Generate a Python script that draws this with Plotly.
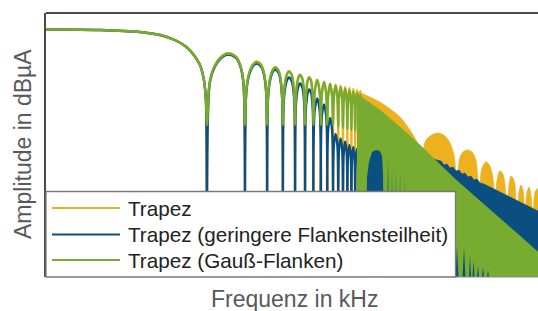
import plotly.graph_objects as go

# ---------------- data ----------------
SERIES_NAMES = ["Trapez", "Trapez (geringere Flankensteilheit)", "Trapez (Gauß-Flanken)"]
SERIES_COLORS = ["#EDB120", "#0B4F80", "#77AC30"]
X_TITLE = "Frequenz in kHz"
Y_TITLE = "Amplitude in dBµA"

# main lobe (common to all three pulses)
FLAT_FREQ_KHZ = [1.06, 2.83, 5.88, 8.47, 11.1, 13.4, 15.5, 17.6, 18.9, 19.6]
FLAT_DB = [123.75, 123.5, 122.5, 121.0, 118.5, 115.5, 111.5, 106.0, 98.5, 88.5]

# resolved side lobes (nulls at multiples of 20 kHz)
LOBE_FREQ_KHZ = [
    20, 21, 23, 26, 29.4, 34, 37, 39,
    40, 41, 43, 46, 49.4, 54, 57, 59,
    60, 61, 63, 66, 69.4, 74, 77, 79,
    80, 81, 83, 86, 89.4, 94, 97, 99,
    100, 101, 103, 106, 109.4, 114, 117, 119,
    120, 121, 123, 126, 129.4, 134, 137, 139,
    140, 143, 150, 157,
    160, 163, 170, 177,
    180, 183, 190, 197,
    200, 203, 210, 217,
    220, 223, 230, 237,
    240, 243, 250, 257,
    260, 263, 270, 277,
    280, 283, 290, 297,
    300, 303, 310, 317,
    320, 323, 330, 337,
    340,
]
ORANGE_LOBE_DB = [
    0, 97.4, 105.65, 110.25, 111.9, 110.15, 105.4, 96.9,
    0, 93.15, 101.4, 106.0, 107.65, 105.9, 101.15, 92.65,
    0, 90.4, 98.65, 103.25, 104.9, 103.15, 98.4, 89.9,
    0, 88.4, 96.65, 101.25, 102.9, 101.15, 96.4, 87.9,
    0, 86.65, 94.9, 99.5, 101.15, 99.4, 94.65, 86.15,
    0, 85.4, 93.65, 98.25, 99.9, 98.15, 93.4, 84.9,
    0, 92.4, 98.65, 92.15,
    0, 91.4, 97.65, 91.15,
    0, 90.5, 96.75, 90.25,
    0, 89.85, 96.1, 89.6,
    0, 89.25, 95.5, 89.0,
    0, 88.75, 95.0, 88.5,
    0, 88.25, 94.5, 88.0,
    0, 87.75, 94.0, 87.5,
    0, 87.25, 93.5, 87.0,
    0, 86.75, 93.0, 86.5,
    0,
]
BLUE_LOBE_DB = [
    0, 96.75, 105.0, 109.6, 111.25, 109.5, 104.75, 96.25,
    0, 92.25, 100.5, 105.1, 106.75, 105.0, 100.25, 91.75,
    0, 89.25, 97.5, 102.1, 103.75, 102.0, 97.25, 88.75,
    0, 85.25, 93.5, 98.1, 99.75, 98.0, 93.25, 84.75,
    0, 82.25, 90.5, 95.1, 96.75, 95.0, 90.25, 81.75,
    0, 79.25, 87.5, 92.1, 93.75, 92.0, 87.25, 78.75,
    0, 83.0, 89.25, 82.75,
    0, 80.0, 86.25, 79.75,
    0, 73.25, 79.5, 73.0,
    0, 65.25, 71.5, 65.0,
    0, 63.0, 69.25, 62.75,
    0, 61.5, 67.75, 61.25,
    0, 59.75, 66.0, 59.5,
    0, 58.75, 65.0, 58.5,
    0, 57.75, 64.0, 57.5,
    0, 57.25, 63.5, 57.0,
    0,
]
GREEN_LOBE_DB = [
    76.0, 97.25, 105.5, 110.1, 111.75, 110.0, 105.25, 96.75,
    76.0, 93.0, 101.25, 105.85, 107.5, 105.75, 101.0, 92.5,
    76.0, 90.25, 98.5, 103.1, 104.75, 103.0, 98.25, 89.75,
    76.0, 88.25, 96.5, 101.1, 102.75, 101.0, 96.25, 87.75,
    76.0, 86.5, 94.75, 99.35, 101.0, 99.25, 94.5, 86.0,
    76.0, 85.25, 93.5, 98.1, 99.75, 98.0, 93.25, 84.75,
    76.0, 92.25, 98.5, 92.0,
    76.0, 91.25, 97.5, 91.0,
    76.0, 90.25, 96.5, 90.0,
    76.0, 89.5, 95.75, 89.25,
    75.0, 88.75, 95.0, 88.5,
    74.5, 88.0, 94.25, 87.75,
    74.0, 87.25, 93.5, 87.0,
    73.5, 86.5, 92.75, 86.25,
    73.0, 85.75, 92.0, 85.5,
    72.5, 85.0, 91.25, 84.75,
    72.0,
]

# dense (unresolved) part: upper envelopes of the oscillating curves
ORANGE_DENSE_FREQ_KHZ = [310, 393, 472, 567, 681, 816, 912, 980, 1017, 1075, 1178, 1362, 1548, 1697,
                         1826, 1928, 2036, 2192, 2358, 2536, 2728, 2883, 3044, 3276, 3524, 3724,
                         3862, 4006, 4231, 4470, 4720, 4808, 4988, 5172, 5464, 5668, 5772, 5988,
                         6210, 6442, 6682, 6930, 7188, 7454, 7734, 8022, 8472]
ORANGE_DENSE_DB = [93.0, 90.0, 87.5, 84.0, 80.0, 73.5, 68.5, 63.5, 58.5, 67.5, 70.5, 72.0, 70.5, 67.0,
                   61.0, 49.5, 60.0, 63.0, 63.5, 62.5, 58.5, 43.5, 54.5, 57.5, 55.5, 49.5,
                   40.0, 48.5, 53.0, 51.5, 41.0, 36.0, 46.0, 50.5, 48.5, 38.5, 33.5, 42.5,
                   46.0, 43.5, 32.5, 42.5, 45.0, 41.0, 31.0, 42.5, 44.5]

BLUE_DENSE_FREQ_KHZ = [472, 681, 980, 1178, 1338, 1439, 1520, 1606, 1697, 1793, 1893, 2000, 2113,
                       2231, 2358, 2490, 2630, 2779, 2936, 3158, 3524, 4231, 5082, 6100, 7322, 8472]
BLUE_DENSE_DB = [62.5, 61.0, 60.0, 59.5, 58.5, 58.0, 56.0, 56.5, 54.5, 55.0, 53.0, 53.5, 51.5,
                 52.0, 50.0, 50.5, 48.5, 49.0, 47.0, 46.5, 45.0, 42.5, 40.0, 37.5, 35.0, 33.0]

GREEN_DENSE_FREQ_KHZ = [310, 327, 472, 681, 980, 1413, 1858, 2936, 4231, 6100, 8472]
GREEN_DENSE_DB = [92.0, 90.5, 83.5, 75.0, 66.0, 56.0, 49.0, 38.0, 29.5, 20.5, 12.5]

# deep blue peaks that show through the green area
BLUE_PEAK_FREQ_KHZ = [365.6, 372, 386, 408, 439, 472, 490, 499, 508,
                      532, 547, 562, 577, 588, 599, 621, 632, 644, 668, 681, 693, 732, 745, 759,
                      1876, 1928, 1982, 2132, 2192, 2252, 2402, 2446, 2490, 2560, 2607, 2654,
                      2779, 2830, 2883, 3044, 3100, 3158, 3337, 3398, 3460]
BLUE_PEAK_DB = [0, 49.5, 57.5, 62.5, 63.5, 63.0, 60.5, 51.0, 0,
                0, 59.5, 0, 0, 56.0, 0, 0, 54.5, 0, 0, 53.5, 0, 0, 49.5, 0,
                0, 15.0, 0, 0, 14.5, 0, 0, 11.0, 0, 0, 8.5, 0,
                0, 5.5, 0, 0, 5.0, 0, 0, 3.5, 0]

X_RANGE_LOG = [0.0233, 3.928]
Y_RANGE_DB = [0, 132]

# ---------------- figure ----------------
W, H = 538, 311
ML, MR, MT, MB = 46, 0, 13, 34
orange, blue, green = SERIES_COLORS
FONT = "Liberation Sans, Arial, sans-serif"

fig = go.Figure()

def lobe_trace(freqs, vals, color, name):
    return go.Scatter(x=freqs, y=vals, mode="lines", name=name, showlegend=False,
                      line=dict(color=color, width=2.4, shape="spline", smoothing=0.9),
                      hoverinfo="skip")

def dense_trace(freqs, vals, color, shape="linear"):
    return go.Scatter(x=freqs, y=vals, mode="lines", fill="tozeroy", fillcolor=color,
                      line=dict(color=color, width=0.6, shape=shape), showlegend=False,
                      hoverinfo="skip")

fig.add_trace(lobe_trace(FLAT_FREQ_KHZ + LOBE_FREQ_KHZ, FLAT_DB + ORANGE_LOBE_DB, orange, SERIES_NAMES[0]))
fig.add_trace(dense_trace(ORANGE_DENSE_FREQ_KHZ, ORANGE_DENSE_DB, orange, "spline"))
fig.add_trace(lobe_trace(FLAT_FREQ_KHZ + LOBE_FREQ_KHZ, FLAT_DB + BLUE_LOBE_DB, blue, SERIES_NAMES[1]))
fig.add_trace(dense_trace(BLUE_DENSE_FREQ_KHZ, BLUE_DENSE_DB, blue))
fig.add_trace(lobe_trace(FLAT_FREQ_KHZ + LOBE_FREQ_KHZ, FLAT_DB + GREEN_LOBE_DB, green, SERIES_NAMES[2]))
fig.add_trace(dense_trace(GREEN_DENSE_FREQ_KHZ, GREEN_DENSE_DB, green))
peaks = dense_trace(BLUE_PEAK_FREQ_KHZ, BLUE_PEAK_DB, blue)
peaks.line.width = 0
fig.add_trace(peaks)

pw = W - ML - MR
ph = H - MT - MB
def px_x(px):
    return (px - ML) / pw
def px_y(py):
    return (H - MB - py) / ph

shapes = [
    dict(type="line", xref="paper", yref="paper", x0=0, x1=1, y0=1, y1=1,
         line=dict(color="#4a4a4a", width=2), layer="above"),
    dict(type="line", xref="paper", yref="paper", x0=0, x1=1, y0=0, y1=0,
         line=dict(color="#8a8a8a", width=1), layer="above"),
    dict(type="rect", xref="paper", yref="paper", x0=px_x(46), x1=px_x(455.5),
         y0=px_y(276.8), y1=px_y(191.5), fillcolor="white",
         line=dict(color="#7a7a7a", width=1.3), layer="above"),
]
annotations = []
legend_rows = [208, 234.5, 260]
for name, color, row in zip(SERIES_NAMES, SERIES_COLORS, legend_rows):
    shapes.append(dict(type="line", xref="paper", yref="paper", x0=px_x(52), x1=px_x(120),
                       y0=px_y(row), y1=px_y(row), line=dict(color=color, width=2.2), layer="above"))
    annotations.append(dict(text=name, xref="paper", yref="paper", x=px_x(126), y=px_y(row),
                            xanchor="left", yanchor="middle", showarrow=False,
                            font=dict(family=FONT, size=20.7, color="#222222")))
annotations.append(dict(text=X_TITLE, xref="paper", yref="paper", x=px_x(294.5), y=px_y(299),
                        xanchor="center", yanchor="middle", showarrow=False,
                        font=dict(family=FONT, size=23, color="#595959")))
annotations.append(dict(text=Y_TITLE, xref="paper", yref="paper", x=px_x(23), y=px_y(144),
                        xanchor="center", yanchor="middle", showarrow=False, textangle=-90,
                        font=dict(family=FONT, size=23, color="#595959")))

fig.update_layout(
    width=W, height=H,
    margin=dict(l=ML, r=MR, t=MT, b=MB, pad=0),
    paper_bgcolor="white", plot_bgcolor="white",
    showlegend=False,
    shapes=shapes, annotations=annotations,
    xaxis=dict(type="log", range=X_RANGE_LOG, showticklabels=False, ticks="", showgrid=False,
               zeroline=False, showline=False, fixedrange=True),
    yaxis=dict(range=Y_RANGE_DB, showticklabels=False, ticks="", showgrid=False, zeroline=False,
               showline=True, linecolor="#4a4a4a", linewidth=2, mirror=False, fixedrange=True),
)

fig.write_html("out.html", config={"displayModeBar": False},
               post_script="document.body.style.margin='0';document.body.style.padding='0';")
